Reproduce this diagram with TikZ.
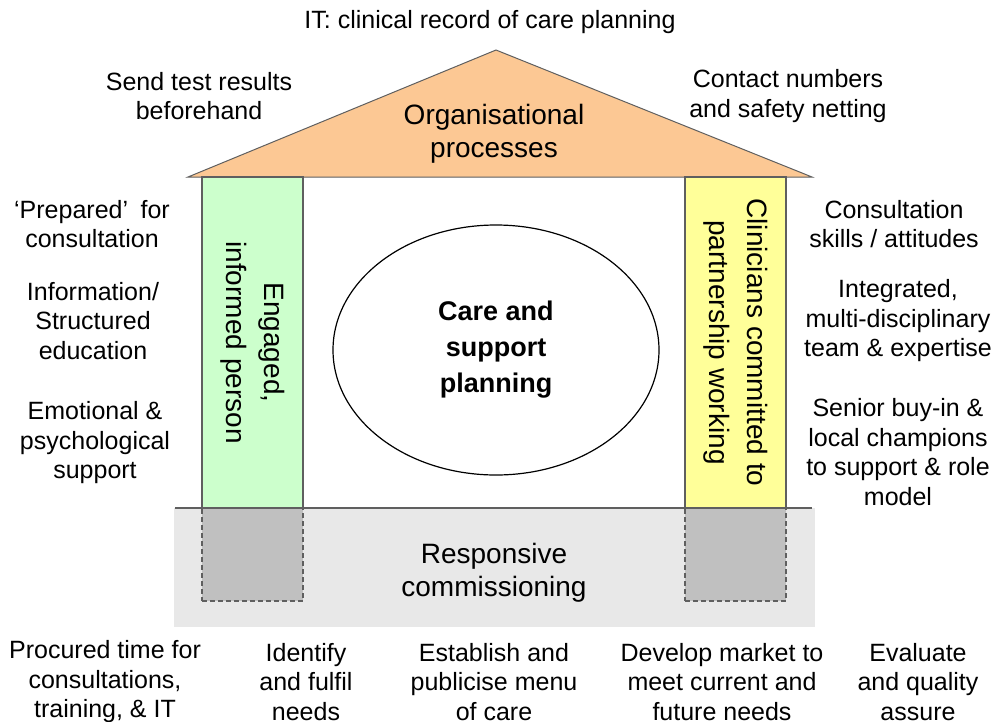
\documentclass[tikz,border=0pt]{standalone}
\usepackage{fontspec}
\setmainfont{Liberation Sans}
\usepackage{tikz}
\usetikzlibrary{shapes.geometric}

\definecolor{roofcol}{HTML}{FCC894}
\definecolor{greenpil}{HTML}{CCFFCC}
\definecolor{yellowpil}{HTML}{FFFF99}
\definecolor{basecol}{HTML}{E8E8E8}
\definecolor{footcol}{HTML}{C0C0C0}
\definecolor{edgecol}{HTML}{5F5F5F}

\begin{document}
\begin{tikzpicture}[x=1pt,y=1pt,
  side/.style = {align=center,inner sep=0pt,font=\fontsize{25}{29.5}\selectfont},
  big/.style = {align=center,inner sep=0pt,font=\fontsize{28}{33}\selectfont},
  pillar/.style = {draw=edgecol,line width=1.3pt,rotate=-90,minimum width=331pt,minimum height=101pt,
                   inner sep=0pt,align=center,font=\fontsize{28}{38}\selectfont},
  footing/.style = {draw=edgecol,line width=1.1pt,dash pattern=on 5pt off 3pt,fill=footcol,
                    minimum width=101pt,minimum height=93pt,inner sep=0pt}]
\useasboundingbox (0,0) rectangle (997,-721);

% foundation
\fill[basecol] (174,-508) rectangle (815,-627);
\node (FootL) at (252.5,-554.5) [footing] {};
\node (FootR) at (735.5,-554.5) [footing] {};
\coordinate (GroundL) at (175,-508);
\coordinate (GroundR) at (812,-508);
\draw[edgecol,line width=1.3pt] (GroundL) -- (GroundR);
\node (Resp) at (494,-573) [big] {Responsive\\commissioning};

% roof
\coordinate (RoofL) at (188,-177);
\coordinate (RoofTop) at (496,-50);
\coordinate (RoofR) at (812,-177);
\draw[edgecol,line width=1pt,fill=roofcol] (RoofL) -- (RoofTop) -- (RoofR) -- cycle;
\node (Org) at (494,-134) [big] {Organisational\\processes};

% pillars
\node (PilL) at (252.5,-342.5) [pillar,fill=greenpil] {Engaged,\\informed person};
\node (PilR) at (735.5,-342.5) [pillar,fill=yellowpil] {Clinicians committed to\\partnership working};

% centre
\node (Plan) at (496,-350) [draw,ellipse,line width=1.2pt,minimum width=326pt,minimum height=250pt,
  align=center,font=\fontsize{27}{36}\selectfont\bfseries] {Care and\\support\\planning};

% labels round the house
\node (IT) at (490,-22) [side] {IT: clinical record of care planning};
\node (Send) at (199,-96) [side] {Send test results\\beforehand};
\node (Contact) at (788,-96) [side] {Contact numbers\\and safety netting};

\node (Prep) at (92,-224) [side] {‘Prepared’\enspace for\\consultation};
\node (Info) at (93,-321) [side] {Information/\\Structured\\education};
\node (Emo) at (95,-443) [side] {Emotional \&\\psychological\\support};

\node (Skills) at (894,-224) [side] {Consultation\\skills / attitudes};
\node (Team) at (898,-321) [side] {Integrated,\\multi-disciplinary\\team \& expertise};
\node (Senior) at (898,-452) [side] {Senior buy-in \&\\local champions\\to support \& role\\model};

% commissioning tasks
\node (Proc) at (105,-682) [side] {Procured time for\\consultations,\\training, \& IT};
\node (Ident) at (306,-682) [side] {Identify\\and fulfil\\needs};
\node (Menu) at (494,-682) [side] {Establish and\\publicise menu\\of care};
\node (Market) at (722,-682) [side] {Develop market to\\meet current and\\future needs};
\node (Eval) at (918,-682) [side] {Evaluate\\and quality\\assure};

\end{tikzpicture}
\end{document}
